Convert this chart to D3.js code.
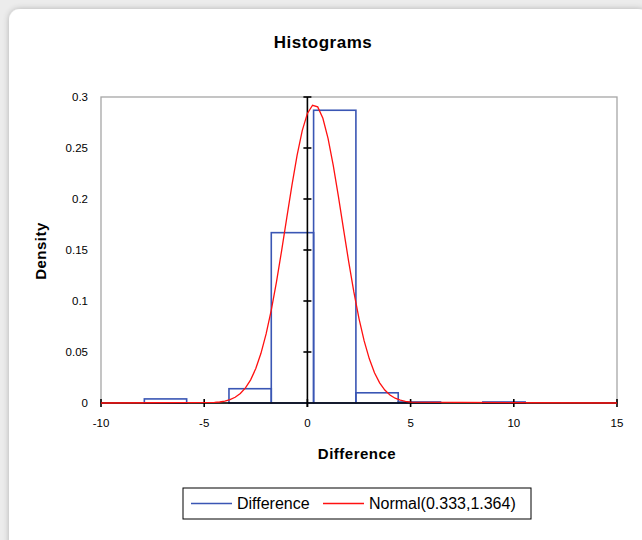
<!DOCTYPE html>
<html>
<head>
<meta charset="utf-8">
<script src="https://cdn.jsdelivr.net/npm/d3@7"></script>
<style>
  body { margin: 0; background: #ececec; font-family: 'Liberation Sans', Arial, sans-serif; }
  svg { display: block; }
</style>
</head>
<body>
<svg id="chart" width="642" height="540"></svg>
<script>
// Histogram bins (Difference), density per bin
const binEdges = [-7.9, -5.85, -3.8, -1.75, 0.3, 2.35, 4.4, 6.45, 8.5, 10.55];
const binDensity = [0.004, 0, 0.014, 0.167, 0.287, 0.010, 0.001, 0, 0.001];

// Normal(0.333,1.364) curve, values
const normalX = [-10, -4.5, -4.25, -4, -3.75, -3.5, -3.25, -3, -2.75, -2.5, -2.25, -2, -1.75, -1.5, -1.25, -1, -0.75,
    -0.5, -0.25, 0, 0.25, 0.5, 0.75, 1, 1.25, 1.5, 1.75, 2, 2.25, 2.5, 2.75, 3, 3.25, 3.5, 3.75, 4, 4.25, 4.5, 4.75, 5, 15];
const normalY = [0, 0.0006, 0.001, 0.0019, 0.0033, 0.0056, 0.0093, 0.0148, 0.0227, 0.0338, 0.0487, 0.0677, 0.0911,
    0.1186, 0.1492, 0.1814, 0.2134, 0.2427, 0.2670, 0.2839, 0.2919, 0.2903, 0.2791, 0.2595, 0.2333, 0.2028, 0.1705,
    0.1386, 0.1089, 0.0828, 0.0609, 0.0433, 0.0297, 0.0198, 0.0127, 0.0079, 0.0047, 0.0028, 0.0016, 0.0008, 0];

const xTicks = [-10, -5, 0, 5, 10, 15];
const yTicks = [0, 0.05, 0.1, 0.15, 0.2, 0.25, 0.3];

const blue = '#3a56b4';
const red = '#ff1010';

const svg = d3.select('#chart');

// card background with soft shadow
const defs = svg.append('defs');
const shadow = defs.append('filter').attr('id', 'shadow')
    .attr('x', '-5%').attr('y', '-5%').attr('width', '110%').attr('height', '110%');
shadow.append('feGaussianBlur').attr('in', 'SourceAlpha').attr('stdDeviation', 3);
shadow.append('feComponentTransfer').append('feFuncA').attr('type', 'linear').attr('slope', 0.25);
const merge = shadow.append('feMerge');
merge.append('feMergeNode');
merge.append('feMergeNode').attr('in', 'SourceGraphic');

svg.append('rect')
    .attr('x', 9).attr('y', 9)
    .attr('width', 640).attr('height', 545)
    .attr('rx', 11)
    .attr('fill', '#fff')
    .attr('filter', 'url(#shadow)');

const plot = {left: 101, right: 617, top: 97, bottom: 403};

const x = d3.scaleLinear().domain([-10, 15]).range([plot.left, plot.right]);
const y = d3.scaleLinear().domain([0, 0.3]).range([plot.bottom, plot.top]);

// Title
svg.append('text')
    .attr('x', 323).attr('y', 48)
    .attr('text-anchor', 'middle')
    .style('font-size', '17px')
    .style('font-weight', 'bold')
    .style('letter-spacing', '0.5px')
    .text('Histograms');

// plot frame
svg.append('rect')
    .attr('x', plot.left).attr('y', plot.top)
    .attr('width', plot.right - plot.left).attr('height', plot.bottom - plot.top)
    .attr('fill', 'none')
    .attr('stroke', '#a6a6a6')
    .attr('stroke-width', 1.3);

// y tick labels on the left side
svg.append('g').selectAll('text')
    .data(yTicks)
    .join('text')
    .attr('x', plot.left - 13)
    .attr('y', d => y(d) + 4)
    .attr('text-anchor', 'end')
    .style('font-size', '11.5px')
    .text(d => d);

// x tick labels
svg.append('g').selectAll('text')
    .data(xTicks)
    .join('text')
    .attr('x', d => x(d))
    .attr('y', plot.bottom + 24)
    .attr('text-anchor', 'middle')
    .style('font-size', '11.5px')
    .text(d => d);

// histogram bars
svg.append('g').selectAll('rect')
    .data(binDensity)
    .join('rect')
    .attr('x', (d, i) => x(binEdges[i]))
    .attr('y', d => y(d))
    .attr('width', (d, i) => x(binEdges[i + 1]) - x(binEdges[i]))
    .attr('height', d => y(0) - y(d))
    .attr('fill', 'none')
    .attr('stroke', d => d > 0 ? blue : 'none')
    .attr('stroke-width', 1.6);

// axes through the origin
const axes = svg.append('g').attr('stroke', '#000').attr('stroke-width', 1.6);
axes.append('line')
    .attr('x1', x(0)).attr('x2', x(0))
    .attr('y1', plot.top).attr('y2', plot.bottom + 4);
axes.append('line')
    .attr('x1', plot.left).attr('x2', plot.right)
    .attr('y1', y(0)).attr('y2', y(0));
axes.selectAll('.ytick')
    .data(yTicks.filter(d => d > 0))
    .join('line')
    .attr('class', 'ytick')
    .attr('x1', x(0) - 4).attr('x2', x(0) + 4)
    .attr('y1', d => y(d)).attr('y2', d => y(d));
axes.selectAll('.xtick')
    .data(xTicks)
    .join('line')
    .attr('class', 'xtick')
    .attr('x1', d => x(d)).attr('x2', d => x(d))
    .attr('y1', y(0) - 4).attr('y2', y(0) + 4);

// normal curve
const normalData = normalX.map((v, i) => ({x: v, y: normalY[i]}));
svg.append('path')
    .datum(normalData)
    .attr('fill', 'none')
    .attr('stroke', red)
    .attr('stroke-width', 1.3)
    .attr('d', d3.line().x(d => x(d.x)).y(d => y(d.y)));

// axis titles
svg.append('text')
    .attr('x', 357).attr('y', 459)
    .attr('text-anchor', 'middle')
    .style('font-size', '15px')
    .style('font-weight', 'bold')
    .style('letter-spacing', '0.5px')
    .text('Difference');

svg.append('text')
    .attr('transform', 'translate(46,251) rotate(-90)')
    .attr('text-anchor', 'middle')
    .style('font-size', '15px')
    .style('font-weight', 'bold')
    .style('letter-spacing', '0.5px')
    .text('Density');

// legend
const legend = svg.append('g').attr('transform', 'translate(183,488)');
legend.append('rect')
    .attr('width', 348).attr('height', 31)
    .attr('fill', '#fff')
    .attr('stroke', '#000')
    .attr('stroke-width', 1);

const items = [
    {label: 'Difference', color: blue, x: 8},
    {label: 'Normal(0.333,1.364)', color: red, x: 140}
];
items.forEach(it => {
    legend.append('line')
        .attr('x1', it.x).attr('x2', it.x + 41)
        .attr('y1', 15.5).attr('y2', 15.5)
        .attr('stroke', it.color)
        .attr('stroke-width', 1.3);
    legend.append('text')
        .attr('x', it.x + 46).attr('y', 21)
        .style('font-size', '16px')
        .text(it.label);
});
</script>
</body>
</html>
